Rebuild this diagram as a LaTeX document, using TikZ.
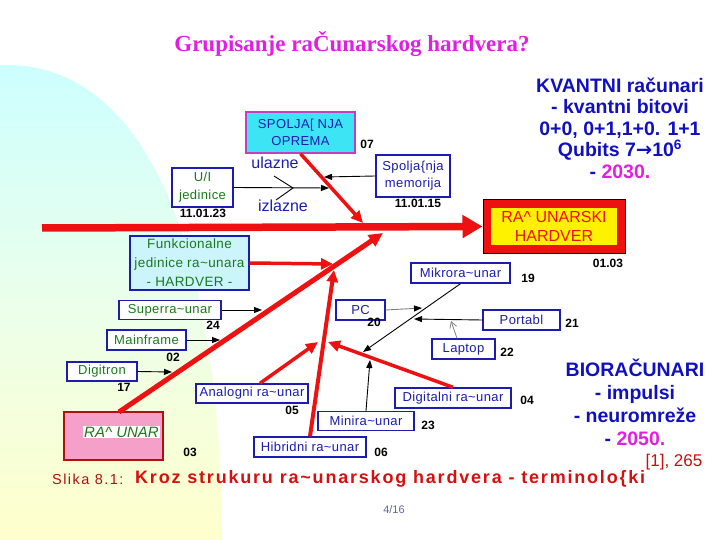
\documentclass[tikz,border=0pt]{standalone}
\usepackage{fontspec}
\setmainfont{Liberation Sans}
\newfontfamily\titlefont{Liberation Serif}
\newfontfamily\boxfont[LetterSpace=3]{Liberation Sans}
\newfontfamily\capfont[LetterSpace=10]{Liberation Sans}
\newfontfamily\arrfont{DejaVu Sans}
\usetikzlibrary{arrows.meta}
\definecolor{boxblue}{HTML}{1C1CB0}
\definecolor{boxgreen}{HTML}{1A7A1A}
\definecolor{myred}{HTML}{EE1111}
\definecolor{darkred}{HTML}{B01010}
\definecolor{cyanfill}{HTML}{3CE4F4}
\definecolor{lightcyan}{HTML}{CCF4FB}
\definecolor{magborder}{HTML}{C040C0}
\definecolor{pinkfill}{HTML}{F4A0C8}
\definecolor{titlemag}{HTML}{E020E0}
\definecolor{txtblue}{HTML}{1010C0}
\begin{document}
\begin{tikzpicture}[x=1pt,y=-1pt,
  box/.style={draw=boxblue, line width=1.4pt, fill=white, inner sep=0pt, align=center,
    font=\boxfont\fontsize{13}{17}\selectfont},
  bb/.style={box, text=boxblue},
  gb/.style={box, text=boxgreen},
  num/.style={font=\fontsize{12}{14}\selectfont\bfseries, text=black, inner sep=0pt},
  redarr/.style={draw=myred, line width=3.5pt, -{Triangle[length=12pt,width=11pt]}},
  blkarr/.style={draw=black, line width=0.9pt, -{Triangle[length=8pt,width=6pt]}},
  bigtxt/.style={font=\fontsize{19.5}{21.5}\selectfont\bfseries, text=txtblue, align=center, inner sep=0pt}
]
\useasboundingbox (0,0) rectangle (720,540);
% background shape
\shade[top color=cyan!20!white, bottom color=yellow!20!white, middle color=green!8!white]
  (0,65) .. controls (125,60) and (220,200) .. (222,540) -- (0,540) -- cycle;

% title
\node[font=\titlefont\fontsize{23}{26}\selectfont\bfseries, text=titlemag] (title) at (352,44) {Grupisanje raČunarskog hardvera?};

% boxes
\node[box, draw=magborder, fill=cyanfill, text=boxblue, minimum width=109pt, minimum height=41pt] (spo) at (300.5,132.5) {SPOLJA[ NJA\\OPREMA};
\node[gb, minimum width=61pt, minimum height=39pt, font=\boxfont\fontsize{13}{18}\selectfont] (ui) at (202.5,187.5) {U/I\\jedinice};
\node[bb, minimum width=74pt, minimum height=42pt] (mem) at (413,176) {Spolja\{nja\\memorija};
\node[draw=black, line width=1pt, fill=myred, minimum width=142pt, minimum height=53pt, inner sep=0pt] (hw) at (554,226.5) {};
\node[fill=yellow, minimum width=126pt, minimum height=37pt, inner sep=0pt, align=center, text=myred,
  font=\fontsize{16}{19}\selectfont] (hwin) at (554,226.5) {RA\^{} UNARSKI\\HARDVER};
\node[gb, fill=lightcyan, minimum width=119pt, minimum height=54pt, font=\boxfont\fontsize{13.5}{19}\selectfont] (fj) at (189.5,263) {Funkcionalne\\jedinice ra\textasciitilde unara\\- HARDVER -};
\node[bb, minimum width=99pt, minimum height=20pt] (mikro) at (460.5,273) {Mikrora\textasciitilde unar};
\node[bb, minimum width=49pt, minimum height=20pt] (pc) at (360.5,310) {PC};
\node[bb, minimum width=77pt, minimum height=20pt] (port) at (521.5,320) {Portabl};
\node[bb, minimum width=63pt, minimum height=20pt] (lap) at (463.5,349) {Laptop};
\node[bb, minimum width=96pt, minimum height=19pt] (mini) at (366,421) {Minira\textasciitilde unar};
\node[bb, minimum width=116pt, minimum height=20pt] (dig) at (453,398) {Digitalni ra\textasciitilde unar};
\node[bb, minimum width=112pt, minimum height=20pt] (hib) at (310,447) {Hibridni ra\textasciitilde unar};
\node[bb, minimum width=112pt, minimum height=19pt] (ana) at (252,393.5) {Analogni ra\textasciitilde unar};
\node[gb, minimum width=102pt, minimum height=19pt] (sup) at (170,310) {Superra\textasciitilde unar};
\node[gb, minimum width=79pt, minimum height=20pt] (mainf) at (146.5,340) {Mainframe};
\node[gb, minimum width=70pt, minimum height=19pt] (digi) at (102,371.5) {Digitron};
\node[draw=darkred, line width=1.2pt, fill=pinkfill, minimum width=99pt, minimum height=48pt, inner sep=0pt] (rac) at (113.5,436) {};
\node[fill=white, inner sep=1pt, text=boxgreen, font=\fontsize{15}{17}\selectfont\itshape] (ractxt) at (121.5,432) {RA\^{} UNAR};

% numbers
\node[num] (n07) at (367,144) {07};
\node[num] (n1123) at (203,213) {11.01.23};
\node[num] (n1115) at (418,203) {11.01.15};
\node[num] (n0103) at (608,263) {01.03};
\node[num] (n19) at (528,278) {19};
\node[num] (n20) at (374,322) {20};
\node[num] (n21) at (572,323) {21};
\node[num] (n22) at (507,352) {22};
\node[num] (n04) at (527,400) {04};
\node[num] (n23) at (428,425) {23};
\node[num] (n06) at (381,452) {06};
\node[num] (n05) at (292,410) {05};
\node[num] (n24) at (213,325) {24};
\node[num] (n02) at (173,357) {02};
\node[num] (n17) at (124,387) {17};
\node[num] (n03) at (190,452) {03};

\node[text=boxblue, font=\fontsize{16}{18}\selectfont, inner sep=0pt] (ul) at (275,163) {ulazne};
\node[text=boxblue, font=\fontsize{16}{18}\selectfont, inner sep=0pt] (iz) at (283,206) {izlazne};

% coordinates
\coordinate (spL) at (42,228);
\coordinate (spoT) at (363,223);
\coordinate (memT) at (324,177);
\coordinate (uiT) at (329,188);
\coordinate (vA) at (274,176);
\coordinate (vB) at (293,188);
\coordinate (vC) at (276,200);
\coordinate (fjT) at (333,264);
\coordinate (racS) at (119,412);
\coordinate (bigT) at (383,233);
\coordinate (hibT) at (334,270);
\coordinate (anaT) at (318,342);
\coordinate (digT) at (328,342);
\coordinate (mikT) at (363,352);
\coordinate (miniT) at (370,360);
\coordinate (pcT) at (422,308);
\coordinate (portT) at (414,319);
\coordinate (lapT) at (451,321);
\coordinate (supT) at (262,310);
\coordinate (mainT) at (220,340);
\coordinate (digiT) at (172,372);

% main spine
\draw[draw=myred, line width=7.5pt, -{Triangle[length=20pt,width=22pt]}] (spL) -- (hw.west);
% red arrows
\draw[redarr] (spo.south) -- (spoT);
\draw[redarr] (fj.east) -- (fjT);
\draw[redarr, line width=5pt, -{Triangle[length=14pt,width=13pt]}] (racS) -- (bigT);
\draw[redarr, line width=4pt] (hib.north) -- (hibT);
\draw[redarr] (ana.north -| 260,0) -- (anaT);
\draw[redarr] (dig.north) -- (digT);
% black arrows
\draw[blkarr] (mem.west) -- (memT);
\draw[blkarr] (ui.east) -- (uiT);
\draw[black, line width=0.9pt] (vA) -- (vB) -- (vC);
\draw[blkarr] (mikro.south) -- (mikT);
\draw[blkarr] (mini.north) -- (miniT);
\draw[draw=gray, line width=0.9pt, -{Triangle[length=8pt,width=6pt,color=black,fill=black]}] (pc.east) -- (pcT);
\draw[blkarr] (port.west) -- (portT);
\draw[draw=gray, line width=0.8pt, -{Straight Barb[length=6pt,width=7pt]}] (lap.north -| 457,0) -- (lapT);
\draw[blkarr] (sup.east) -- (supT);
\draw[blkarr] (mainf.east) -- (mainT);
\draw[blkarr] (digi.east) -- (digiT);

% right texts
\node[bigtxt] (kv) at (620,128) {KVANTNI računari\\- kvantni bitovi\\0+0, 0+1,1+0. 1+1\\Qubits 7{\arrfont\bfseries →}10\textsuperscript{6}\\- \textcolor{titlemag}{2030.}};
\node[bigtxt, font=\fontsize{19.5}{23}\selectfont\bfseries] (bio) at (635,402) {BIORAČUNARI\\- impulsi\\- neuromreže\\- \textcolor{titlemag}{2050.}};

% caption
\node[anchor=west, text=darkred, font=\capfont\fontsize{14.5}{16}\selectfont, inner sep=0pt] (cap1) at (52,479) {Slika 8.1:};
\node[anchor=west, text=myred!90!black, font=\capfont\fontsize{18}{20}\selectfont\bfseries, inner sep=0pt] (cap2) at (135,479) {Kroz strukuru ra\textasciitilde unarskog hardvera - terminolo\{ki};
\node[text=myred!85!black, font=\fontsize{17}{20}\selectfont, inner sep=0pt] (ref) at (674,462) {[1], 265};
\node[text=gray!80!blue, font=\fontsize{11}{13}\selectfont, inner sep=0pt] (pg) at (394,510) {4/16};
\end{tikzpicture}
\end{document}
